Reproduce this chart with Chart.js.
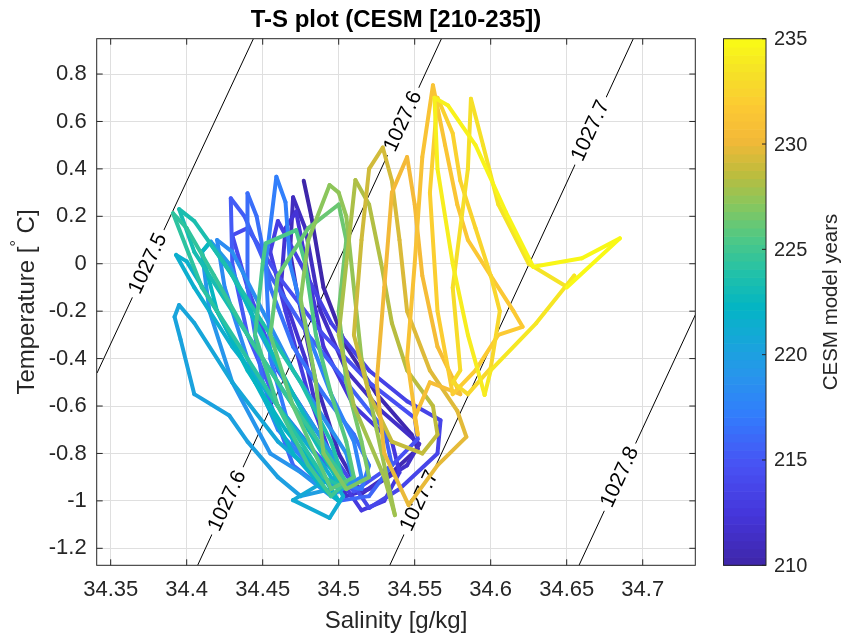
<!DOCTYPE html>
<html lang="en">
<head>
  <meta charset="UTF-8" />
  <title>T-S plot (CESM [210-235])</title>
  <script src="https://cdn.jsdelivr.net/npm/chart.js"></script>
  <style>
    html, body { margin: 0; padding: 0; background: #fff; }
    .chart-container { position: relative; width: 842px; height: 634px; }
  </style>
</head>
<body>
  <div class="chart-container">
    <canvas id="tsChart"></canvas>
  </div>

  <script>
    // model years, one loop of monthly values per year
    const years = [210, 211, 212, 213, 214, 215, 216, 217, 218, 219, 220, 221, 222,
                   223, 224, 225, 226, 227, 228, 229, 230, 231, 232, 233, 234];

    const salinity = [
      [34.477, 34.482, 34.490, 34.505, 34.525, 34.548, 34.552, 34.535, 34.515, 34.500, 34.485, 34.472],
      [34.468, 34.470, 34.478, 34.488, 34.505, 34.528, 34.553, 34.545, 34.520, 34.505, 34.490, 34.478],
      [34.462, 34.465, 34.472, 34.480, 34.490, 34.510, 34.535, 34.540, 34.530, 34.515, 34.500, 34.480],
      [34.465, 34.455, 34.460, 34.475, 34.495, 34.520, 34.545, 34.567, 34.565, 34.540, 34.520, 34.490],
      [34.460, 34.440, 34.430, 34.440, 34.460, 34.490, 34.520, 34.550, 34.552, 34.535, 34.510, 34.485],
      [34.460, 34.440, 34.430, 34.429, 34.438, 34.455, 34.480, 34.505, 34.530, 34.535, 34.520, 34.500],
      [34.470, 34.450, 34.440, 34.440, 34.446, 34.455, 34.470, 34.490, 34.510, 34.520, 34.515, 34.490],
      [34.470, 34.455, 34.452, 34.459, 34.465, 34.468, 34.480, 34.495, 34.510, 34.515, 34.500, 34.480],
      [34.460, 34.440, 34.425, 34.420, 34.430, 34.450, 34.470, 34.490, 34.505, 34.510, 34.495, 34.475],
      [34.455, 34.430, 34.415, 34.410, 34.416, 34.428, 34.445, 34.465, 34.485, 34.500, 34.495, 34.475],
      [34.460, 34.440, 34.428, 34.405, 34.396, 34.392, 34.395, 34.405, 34.430, 34.460, 34.490, 34.470],
      [34.470, 34.494, 34.503, 34.490, 34.460, 34.430, 34.405, 34.393, 34.400, 34.420, 34.445, 34.470],
      [34.490, 34.500, 34.490, 34.465, 34.440, 34.420, 34.410, 34.415, 34.430, 34.450, 34.470, 34.490],
      [34.500, 34.480, 34.455, 34.430, 34.405, 34.395, 34.405, 34.425, 34.450, 34.475, 34.495, 34.505],
      [34.490, 34.465, 34.440, 34.410, 34.391, 34.400, 34.418, 34.440, 34.465, 34.490, 34.505, 34.495],
      [34.480, 34.460, 34.445, 34.450, 34.452, 34.472, 34.478, 34.485, 34.495, 34.505, 34.510, 34.495],
      [34.470, 34.455, 34.460, 34.480, 34.500, 34.505, 34.500, 34.505, 34.515, 34.520, 34.505, 34.490],
      [34.485, 34.475, 34.480, 34.494, 34.500, 34.505, 34.510, 34.515, 34.525, 34.537, 34.530, 34.510],
      [34.500, 34.505, 34.511, 34.520, 34.528, 34.535, 34.545, 34.562, 34.565, 34.555, 34.535, 34.520],
      [34.510, 34.515, 34.520, 34.529, 34.535, 34.540, 34.545, 34.560, 34.578, 34.584, 34.565, 34.546],
      [34.530, 34.525, 34.530, 34.535, 34.545, 34.550, 34.555, 34.565, 34.580, 34.560, 34.550, 34.552],
      [34.545, 34.550, 34.555, 34.562, 34.570, 34.578, 34.585, 34.600, 34.615, 34.621, 34.605, 34.590],
      [34.575, 34.565, 34.560, 34.565, 34.575, 34.580, 34.590, 34.600, 34.606, 34.600, 34.585, 34.575],
      [34.580, 34.575, 34.585, 34.587, 34.595, 34.605, 34.625, 34.650, 34.655, 34.630, 34.600, 34.596],
      [34.596, 34.585, 34.575, 34.565, 34.563, 34.572, 34.590, 34.610, 34.628, 34.660, 34.685, 34.650]
    ];

    const temperature = [
      [0.35, 0.20, -0.10, -0.35, -0.55, -0.72, -0.78, -0.88, -0.97, -0.80, -0.50, -0.10],
      [0.05, 0.28, 0.15, -0.20, -0.45, -0.62, -0.76, -0.85, -0.95, -0.98, -0.75, -0.40],
      [-0.10, 0.15, 0.22, -0.05, -0.35, -0.60, -0.75, -0.88, -1.00, -1.04, -0.90, -0.55],
      [-0.20, 0.05, 0.18, 0.00, -0.25, -0.45, -0.58, -0.66, -0.80, -0.95, -1.03, -0.75],
      [-0.45, -0.10, 0.12, 0.15, -0.05, -0.30, -0.50, -0.65, -0.74, -0.85, -0.96, -0.80],
      [-0.60, -0.30, 0.00, 0.276, 0.20, -0.05, -0.30, -0.50, -0.70, -0.85, -0.98, -1.00],
      [-0.85, -0.50, -0.10, 0.297, 0.20, -0.10, -0.35, -0.55, -0.72, -0.85, -0.95, -0.92],
      [-0.75, -0.40, 0.00, 0.367, 0.26, 0.00, -0.30, -0.55, -0.75, -0.90, -0.95, -0.85],
      [-0.70, -0.40, -0.10, 0.10, 0.05, -0.20, -0.45, -0.65, -0.80, -0.92, -0.98, -0.88],
      [-0.80, -0.50, -0.20, 0.05, 0.093, 0.00, -0.25, -0.50, -0.70, -0.85, -0.95, -0.98],
      [-0.90, -0.75, -0.64, -0.55, -0.32, -0.224, -0.174, -0.25, -0.50, -0.75, -0.92, -0.997],
      [-0.997, -1.072, -0.98, -0.85, -0.60, -0.35, -0.10, 0.037, 0.01, -0.20, -0.50, -0.80],
      [-0.95, -1.00, -0.90, -0.70, -0.45, -0.20, 0.05, 0.09, -0.05, -0.30, -0.55, -0.80],
      [-0.92, -0.70, -0.45, -0.20, 0.05, 0.23, 0.18, 0.00, -0.25, -0.50, -0.75, -0.95],
      [-0.90, -0.65, -0.40, -0.10, 0.213, 0.15, -0.05, -0.30, -0.55, -0.78, -0.92, -0.98],
      [-0.85, -0.60, -0.30, 0.00, 0.086, 0.142, 0.00, -0.30, -0.55, -0.75, -0.90, -0.95],
      [-0.60, -0.30, -0.05, 0.15, 0.25, 0.10, -0.20, -0.50, -0.75, -0.90, -0.95, -0.80],
      [-0.50, -0.15, 0.10, 0.332, 0.30, 0.20, -0.10, -0.40, -0.70, -1.06, -0.90, -0.60],
      [-0.30, 0.00, 0.353, 0.25, 0.00, -0.25, -0.45, -0.60, -0.72, -0.80, -0.75, -0.55],
      [-0.30, 0.10, 0.40, 0.49, 0.35, 0.10, -0.20, -0.45, -0.62, -0.73, -0.85, -1.018],
      [-0.80, -0.50, -0.10, 0.30, 0.45, 0.25, -0.05, -0.35, -0.55, -0.50, -0.65, -0.72],
      [-0.40, 0.00, 0.45, 0.753, 0.50, 0.25, 0.10, -0.05, -0.20, -0.266, -0.30, -0.45],
      [-0.55, -0.20, 0.30, 0.70, 0.55, 0.35, 0.15, -0.05, -0.20, -0.44, -0.55, -0.50],
      [-0.45, -0.10, 0.40, 0.696, 0.50, 0.25, 0.00, -0.097, -0.05, -0.25, -0.45, -0.553],
      [-0.553, -0.30, 0.00, 0.40, 0.70, 0.667, 0.50, 0.218, -0.013, 0.023, 0.107, -0.10]
    ];

    // isopycnals (density, kg/m3): end points and label positions
    const isoLevels = ['1027.5', '1027.6', '1027.7', '1027.8'];
    const isoSalinity = [[34.3410, 34.4439], [34.4072, 34.5676], [34.5336, 34.6938], [34.6581, 34.8190]];
    const isoTemperature = [[-0.461, 0.949], [-1.2717, 0.949], [-1.2717, 0.949], [-1.2717, 0.949]];
    const isoLabelTemp = [[0.0], [-1.0, 0.6], [-1.0, 0.56], [-0.9]];

    const xTicks = [34.35, 34.4, 34.45, 34.5, 34.55, 34.6, 34.65, 34.7];
    const yTicks = [0.8, 0.6, 0.4, 0.2, 0, -0.2, -0.4, -0.6, -0.8, -1, -1.2];
    const cbTicks = [210, 215, 220, 225, 230, 235];

    const FONT = "'Liberation Sans', Arial, Helvetica, sans-serif";
    const INK = '#262626';

    // parula colour stops
    const parulaStops = [
      [0.000, 62, 38, 168], [0.095, 69, 53, 218], [0.190, 72, 82, 244],
      [0.286, 50, 125, 252], [0.365, 39, 150, 235], [0.450, 16, 172, 210],
      [0.492, 4, 181, 195], [0.556, 34, 193, 168], [0.619, 77, 200, 135],
      [0.683, 134, 199, 95], [0.746, 191, 188, 60], [0.810, 244, 185, 56],
      [0.873, 252, 202, 51], [0.937, 245, 226, 39], [1.000, 249, 251, 21]
    ];
    function parula(t) {
      t = Math.min(1, Math.max(0, t));
      for (let i = 1; i < parulaStops.length; i++) {
        const a = parulaStops[i - 1], b = parulaStops[i];
        if (t <= b[0]) {
          const f = (t - a[0]) / (b[0] - a[0]);
          const c = [1, 2, 3].map(k => Math.round(a[k] + f * (b[k] - a[k])));
          return 'rgb(' + c.join(',') + ')';
        }
      }
      return 'rgb(249,251,21)';
    }

    // flatten the yearly loops into one line, keep the time of each point
    const tsPoints = [];
    const tsTimes = [];
    years.forEach((yr, i) => {
      salinity[i].forEach((s, m) => {
        tsPoints.push({ x: s, y: temperature[i][m] });
        tsTimes.push(yr + m / 12);
      });
    });
    const yearMin = 210, yearMax = 235;

    const isoDatasets = isoLevels.map((lev, k) => ({
      label: lev,
      isoIndex: k,
      data: isoSalinity[k].map((s, j) => ({ x: s, y: isoTemperature[k][j] })),
      showLine: true,
      borderColor: '#000',
      borderWidth: 1,
      pointRadius: 0,
      order: 2
    }));

    const extras = {
      id: 'tsExtras',
      afterDatasetDraw(chart, args) {
        const ds = chart.data.datasets[args.index];
        if (ds.isoIndex === undefined) return;
        const k = ds.isoIndex;
        const ctx = chart.ctx, xs = chart.scales.x, ys = chart.scales.y;
        const S = isoSalinity[k], T = isoTemperature[k];
        const ang = Math.atan2(ys.getPixelForValue(T[1]) - ys.getPixelForValue(T[0]),
                               xs.getPixelForValue(S[1]) - xs.getPixelForValue(S[0]));
        isoLabelTemp[k].forEach(t => {
          const s = S[0] + (t - T[0]) / (T[1] - T[0]) * (S[1] - S[0]);
          ctx.save();
          ctx.translate(xs.getPixelForValue(s), ys.getPixelForValue(t));
          ctx.rotate(ang);
          ctx.font = '21px ' + FONT;
          const w = ctx.measureText(isoLevels[k]).width;
          ctx.fillStyle = '#fff';
          ctx.fillRect(-w / 2 - 5, -2.5, w + 10, 5);
          ctx.fillStyle = '#000';
          ctx.textAlign = 'center';
          ctx.textBaseline = 'middle';
          ctx.fillText(isoLevels[k], 0, 0);
          ctx.restore();
        });
      },
      afterDraw(chart) {
        const ctx = chart.ctx, a = chart.chartArea;
        const xs = chart.scales.x, ys = chart.scales.y;
        ctx.save();
        // axes box and inward ticks
        ctx.strokeStyle = INK;
        ctx.lineWidth = 1;
        ctx.strokeRect(a.left, a.top, a.right - a.left, a.bottom - a.top);
        ctx.beginPath();
        xTicks.forEach(v => {
          const px = xs.getPixelForValue(v);
          ctx.moveTo(px, a.bottom); ctx.lineTo(px, a.bottom - 6);
          ctx.moveTo(px, a.top); ctx.lineTo(px, a.top + 6);
        });
        yTicks.forEach(v => {
          const py = ys.getPixelForValue(v);
          ctx.moveTo(a.left, py); ctx.lineTo(a.left + 6, py);
          ctx.moveTo(a.right, py); ctx.lineTo(a.right - 6, py);
        });
        ctx.stroke();

        // title
        ctx.fillStyle = '#000';
        ctx.font = 'bold 24px ' + FONT;
        ctx.textAlign = 'center';
        ctx.textBaseline = 'middle';
        ctx.fillText('T-S plot (CESM [210-235])', (a.left + a.right) / 2, 20);

        // axis labels
        ctx.fillStyle = INK;
        ctx.font = '24px ' + FONT;
        ctx.fillText('Salinity [g/kg]', (a.left + a.right) / 2, 621);

        ctx.save();
        ctx.translate(27, 302);
        ctx.rotate(-Math.PI / 2);
        const p1 = 'Temperature [', p3 = ' C]';
        ctx.font = '24px ' + FONT;
        const w1 = ctx.measureText(p1).width, w3 = ctx.measureText(p3).width;
        ctx.font = '16px ' + FONT;
        const w2 = ctx.measureText('\u00b0').width;
        let x0 = -(w1 + w2 + w3) / 2;
        ctx.textAlign = 'left';
        ctx.font = '24px ' + FONT;
        ctx.fillText(p1, x0, 0);
        ctx.font = '16px ' + FONT;
        ctx.fillText('\u00b0', x0 + w1, -9);
        ctx.font = '24px ' + FONT;
        ctx.fillText(p3, x0 + w1 + w2, 0);
        ctx.restore();

        // colour bar
        const cbL = 723.5, cbR = 766, cbT = a.top, cbB = a.bottom;
        const n = 64, h = (cbB - cbT) / n;
        for (let i = 0; i < n; i++) {
          ctx.fillStyle = parula((i + 0.5) / n);
          ctx.fillRect(cbL, cbB - (i + 1) * h, cbR - cbL, h + 0.6);
        }
        ctx.strokeStyle = INK;
        ctx.strokeRect(cbL, cbT, cbR - cbL, cbB - cbT);
        ctx.font = '20px ' + FONT;
        ctx.fillStyle = INK;
        ctx.textAlign = 'left';
        ctx.textBaseline = 'middle';
        ctx.beginPath();
        cbTicks.forEach(v => {
          const py = cbB - (v - yearMin) / (yearMax - yearMin) * (cbB - cbT);
          ctx.moveTo(cbR, py); ctx.lineTo(cbR - 4, py);
          ctx.fillText(String(v), 774, py + 1);
        });
        ctx.stroke();
        ctx.save();
        ctx.translate(831, (cbT + cbB) / 2);
        ctx.rotate(-Math.PI / 2);
        ctx.textAlign = 'center';
        ctx.font = '20.5px ' + FONT;
        ctx.fillText('CESM model years', 0, 0);
        ctx.restore();
        ctx.restore();
      }
    };

    new Chart(document.getElementById('tsChart').getContext('2d'), {
      type: 'scatter',
      data: {
        datasets: [
          {
            label: 'T-S',
            data: tsPoints,
            showLine: true,
            borderWidth: 4,
            borderCapStyle: 'round',
            borderJoinStyle: 'round',
            pointRadius: 0,
            order: 1,
            segment: {
              borderColor: c => parula((tsTimes[c.p0DataIndex] + 1 / 24 - yearMin) / (yearMax - yearMin))
            }
          },
          ...isoDatasets
        ]
      },
      options: {
        responsive: true,
        maintainAspectRatio: false,
        animation: false,
        layout: { padding: { top: 38.7, right: 146.7, bottom: 0, left: 0 } },
        plugins: { legend: { display: false }, tooltip: { enabled: false } },
        scales: {
          x: {
            type: 'linear',
            min: 34.3408,
            max: 34.7346,
            afterFit: s => { s.height = 68.7; },
            afterBuildTicks: s => { s.ticks = xTicks.map(v => ({ value: v })); },
            grid: { color: '#dfdfdf', drawTicks: false },
            border: { display: false },
            ticks: {
              autoSkip: false,
              maxRotation: 0,
              padding: 11,
              color: INK,
              font: { family: FONT, size: 22 },
              callback: v => String(v)
            }
          },
          y: {
            type: 'linear',
            min: -1.2717,
            max: 0.949,
            afterFit: s => { s.width = 96.7; },
            afterBuildTicks: s => { s.ticks = yTicks.map(v => ({ value: v })); },
            grid: { color: '#dfdfdf', drawTicks: false },
            border: { display: false },
            ticks: {
              autoSkip: false,
              padding: 10,
              color: INK,
              font: { family: FONT, size: 22 },
              callback: v => String(v)
            }
          }
        }
      },
      plugins: [extras]
    });
  </script>
</body>
</html>
